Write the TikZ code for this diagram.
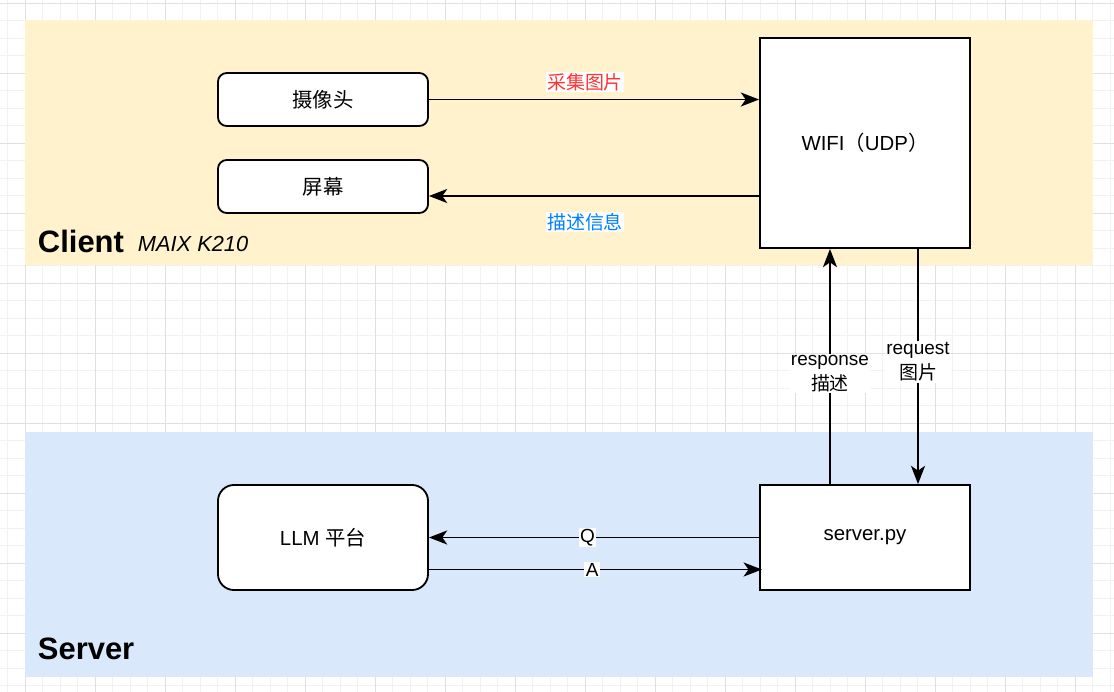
\documentclass[tikz,border=0pt]{standalone}
\usepackage{fontspec}
\setmainfont{Liberation Sans}
\newfontfamily\cjk{Noto Sans CJK SC}
\usetikzlibrary{arrows.meta, positioning, calc}
\definecolor{clientfill}{HTML}{FFF2CC}
\definecolor{serverfill}{HTML}{DAE8FC}
\definecolor{labelred}{HTML}{FF3333}
\definecolor{labelblue}{HTML}{007FFF}
\definecolor{gridminor}{HTML}{F2F2F2}
\definecolor{gridmajor}{HTML}{E0E0E0}
\tikzset{
  unitbox/.style={draw, line width=1.3pt, fill=white, minimum width=5.25cm,
    font=\fontsize{14.5}{17}\selectfont, align=center, inner sep=2pt},
  link/.style={line width=1.3pt, -{Stealth[length=13pt, width=10pt, inset=3.5pt]}},
  linklabel/.style={fill=white, inner sep=1pt, font=\fontsize{13.5}{18}\selectfont, align=center},
  bigtitle/.style={font=\fontsize{22}{26}\selectfont\bfseries, anchor=west},
}
\begin{document}
\begin{tikzpicture}[x=0.025cm, y=-0.025cm]
  \useasboundingbox (0,0) rectangle (1114,692);
  \fill[white] (0,0) rectangle (1114,692);

  % Grid
  \foreach \gx in {0,...,63} {
    \draw[gridminor, line width=0.5pt] ({7.5+17.5*\gx},0) -- ({7.5+17.5*\gx},692);
  }
  \foreach \gy in {0,...,39} {
    \draw[gridminor, line width=0.5pt] (0,{3+17.5*\gy}) -- (1114,{3+17.5*\gy});
  }
  \foreach \gx in {0,...,15} {
    \draw[gridmajor, line width=0.6pt] ({25+70*\gx},0) -- ({25+70*\gx},692);
  }
  \foreach \gy in {0,...,9} {
    \draw[gridmajor, line width=0.6pt] (0,{3+70*\gy}) -- (1114,{3+70*\gy});
  }

  % Bands
  \fill[clientfill] (25,20) rectangle (1093,265);
  \fill[serverfill] (25,432) rectangle (1093,677);

  % Client side
  \node[unitbox, rounded corners=0.22cm, minimum height=1.325cm] (camera) at (323,99.5) {\cjk 摄像头};
  \node[unitbox, rounded corners=0.22cm, minimum height=1.325cm] (screen) at (323,186.5) {\cjk 屏幕};
  \node[unitbox, minimum height=5.25cm] (wifi) at (865,143) {WIFI{\cjk （}UDP{\cjk ）}};

  \node[bigtitle] (client) at (33,241) {Client};
  \node[font=\fontsize{15.5}{18}\selectfont\itshape, anchor=west] (board) at (133,244) {MAIX K210};

  % Server side
  \node[unitbox, minimum height=2.625cm] (server) at (865,537.5) {server.py};
  \node[unitbox, rounded corners=0.4cm, minimum height=2.625cm] (llm) at (323,537.5) {LLM {\cjk 平台}};

  \node[bigtitle] (servertitle) at (33,649) {Server};

  % Client links
  \draw[link] (camera.east) -- (camera.east -| wifi.west);
  \node[linklabel, text=labelred, font=\cjk\fontsize{13.5}{18}\selectfont] (capture) at (585,82) {采集图片};
  \draw[link] ([yshift=-0.2375cm]wifi.west |- screen.east) -- ([yshift=-0.2375cm]screen.east);
  \node[linklabel, text=labelblue, font=\cjk\fontsize{13.5}{18}\selectfont] (describe) at (585,222) {描述信息};

  % Client <-> server
  \draw[link] ([xshift=-0.875cm]server.north) -- ([xshift=-0.875cm]wifi.south)
    node[linklabel, pos=0.47] (response) {response\\{\cjk 描述}};
  \draw[link] ([xshift=1.325cm]wifi.south) -- ([xshift=1.325cm]server.north)
    node[linklabel, pos=0.48] (request) {request\\{\cjk 图片}};

  % Server <-> LLM
  \draw[link] (server.west) -- (server.west -| llm.east)
    node[linklabel, pos=0.52] (question) {Q};
  \draw[link] ([yshift=-0.8cm]llm.east) -- ([yshift=-0.8cm,xshift=2pt]llm.east -| server.west)
    node[linklabel, pos=0.49] (answer) {A};
\end{tikzpicture}
\end{document}
